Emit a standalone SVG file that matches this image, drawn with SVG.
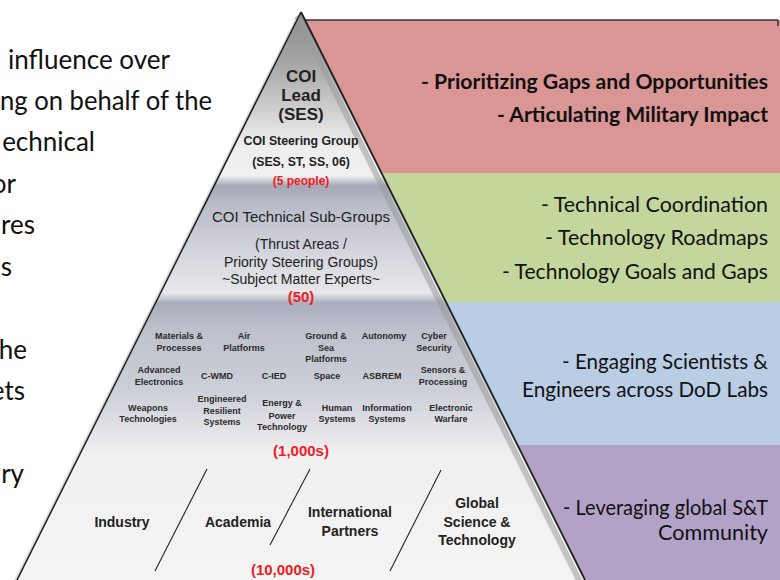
<svg xmlns="http://www.w3.org/2000/svg" width="780" height="580" viewBox="0 0 780 580">
<defs>
<linearGradient id="pyr" gradientUnits="userSpaceOnUse" x1="0" y1="12" x2="0" y2="580">
<stop offset="0" stop-color="#8c8c8c"/>
<stop offset="0.0845" stop-color="#a4a4a4"/>
<stop offset="0.155" stop-color="#c6c6c6"/>
<stop offset="0.2077" stop-color="#e2e2e2"/>
<stop offset="0.243" stop-color="#eeeeee"/>
<stop offset="0.2887" stop-color="#f0f0f0"/>
<stop offset="0.3063" stop-color="#a4a7b6"/>
<stop offset="0.3398" stop-color="#babcc8"/>
<stop offset="0.419" stop-color="#d2d3dc"/>
<stop offset="0.4806" stop-color="#e4e4e8"/>
<stop offset="0.4947" stop-color="#e8e8ec"/>
<stop offset="0.5123" stop-color="#aaadbb"/>
<stop offset="0.5599" stop-color="#bec0cb"/>
<stop offset="0.6655" stop-color="#cdcfd8"/>
<stop offset="0.7359" stop-color="#e2e2e7"/>
<stop offset="0.78" stop-color="#f0f0f0"/>
<stop offset="1" stop-color="#f4f4f4"/>
</linearGradient>
<style>
.lt{font-family:Lato,"Open Sans",sans-serif;font-size:26px;fill:#111}
.pt{font-family:Lato,"Open Sans",sans-serif;font-size:20.5px;fill:#111;text-anchor:end}
.pb{font-weight:bold}
.a{font-family:"Liberation Sans",Arial,sans-serif;text-anchor:middle;fill:#222}
.b{font-weight:bold}
.red{fill:#ee1c24;font-weight:bold}
.t{font-family:"Liberation Sans",Arial,sans-serif;font-size:9px;font-weight:bold;text-anchor:middle;fill:#2a2a2a}
.div{stroke:#222;stroke-width:1.1;fill:none}
</style>
</defs>
<rect width="780" height="580" fill="#ffffff"/>

<g id="left-text" class="lt">
<text x="8" y="69" textLength="162" lengthAdjust="spacingAndGlyphs">influence over</text>
<text x="0" y="110" textLength="212" lengthAdjust="spacingAndGlyphs">ng on behalf of the</text>
<text x="95" y="151" text-anchor="end">echnical</text>
<text x="16" y="193" text-anchor="end">or</text>
<text x="35" y="234" text-anchor="end">res</text>
<text x="12" y="276" text-anchor="end">s</text>
<text x="27" y="359" text-anchor="end">he</text>
<text x="25" y="400" text-anchor="end">ets</text>
<text x="24" y="483" text-anchor="end">ry</text>
</g>

<g id="panels">
<polygon id="panel-red" points="305,20 780,20 780,173 381.5,173" fill="#d99694"/>
<polygon id="panel-green" points="381.5,173 780,173 780,302 446,302" fill="#c3d69b"/>
<polygon id="panel-blue" points="446,302 780,302 780,445 517.5,445" fill="#b9cde5"/>
<polygon id="panel-purple" points="517.5,445 780,445 780,580 585,580" fill="#b3a2c7"/>
<line x1="305" y1="20" x2="778" y2="20" stroke="#333" stroke-width="1.5"/>
<line x1="778" y1="20" x2="778" y2="26" stroke="#333" stroke-width="1.5"/>
<g class="pt pb">
<text x="768" y="89" textLength="347" lengthAdjust="spacingAndGlyphs">- Prioritizing Gaps and Opportunities</text>
<text x="768" y="122" textLength="271" lengthAdjust="spacingAndGlyphs">- Articulating Military Impact</text>
</g>
<g class="pt">
<text x="768" y="212" textLength="227" lengthAdjust="spacingAndGlyphs">- Technical Coordination</text>
<text x="768" y="245" textLength="223" lengthAdjust="spacingAndGlyphs">- Technology Roadmaps</text>
<text x="768" y="279" textLength="266" lengthAdjust="spacingAndGlyphs">- Technology Goals and Gaps</text>
<text x="768" y="369" textLength="206" lengthAdjust="spacingAndGlyphs">- Engaging Scientists &amp;</text>
<text x="768" y="397" textLength="246" lengthAdjust="spacingAndGlyphs">Engineers across DoD Labs</text>
<text x="768" y="515" textLength="205" lengthAdjust="spacingAndGlyphs">- Leveraging global S&amp;T</text>
<text x="768" y="540" textLength="110" lengthAdjust="spacingAndGlyphs">Community</text>
</g>
</g>

<g id="pyramid">
<polygon points="301,12 17,580 585,580" fill="url(#pyr)"/>
<line x1="297" y1="16" x2="580" y2="582" stroke="#9a9a9a" stroke-width="6" stroke-opacity="0.55"/>
<line x1="298" y1="16" x2="14" y2="584" stroke="#bbbbbb" stroke-width="3" stroke-opacity="0.5"/>
<line x1="301" y1="12" x2="17" y2="580" stroke="#1e1e1e" stroke-width="1.5"/>
<line x1="301" y1="12" x2="585" y2="580" stroke="#1e1e1e" stroke-width="1.8"/>
</g>

<g id="tier-lead" class="a">
<text class="b" x="301" y="82" font-size="17">COI</text>
<text class="b" x="301" y="101" font-size="17">Lead</text>
<text class="b" x="301" y="120" font-size="17">(SES)</text>
<text class="b" x="301" y="145" font-size="12.3">COI Steering Group</text>
<text class="b" x="301" y="166" font-size="12.3">(SES, ST, SS, 06)</text>
<text class="red" x="301" y="185" font-size="12">(5 people)</text>
</g>

<g id="tier-subgroups" class="a">
<text x="301" y="222" font-size="14.5" textLength="178" lengthAdjust="spacingAndGlyphs">COI Technical Sub-Groups</text>
<text x="301" y="249" font-size="14">(Thrust Areas /</text>
<text x="301" y="267" font-size="14">Priority Steering Groups)</text>
<text x="301" y="284" font-size="14">~Subject Matter Experts~</text>
<text class="red" x="301" y="302" font-size="15">(50)</text>
</g>

<g id="tier-areas" class="t">
<text x="179" y="339">Materials &amp;</text><text x="179" y="351">Processes</text>
<text x="244" y="339">Air</text><text x="244" y="351">Platforms</text>
<text x="326" y="339">Ground &amp;</text><text x="326" y="351">Sea</text><text x="326" y="362">Platforms</text>
<text x="384" y="339">Autonomy</text>
<text x="434" y="339">Cyber</text><text x="434" y="351">Security</text>
<text x="159" y="373">Advanced</text><text x="159" y="385">Electronics</text>
<text x="217" y="379">C-WMD</text>
<text x="274" y="379">C-IED</text>
<text x="327" y="379">Space</text>
<text x="382" y="379">ASBREM</text>
<text x="443" y="373">Sensors &amp;</text><text x="443" y="385">Processing</text>
<text x="148" y="411">Weapons</text><text x="148" y="422">Technologies</text>
<text x="222" y="402">Engineered</text><text x="222" y="414">Resilient</text><text x="222" y="425">Systems</text>
<text x="282" y="406">Energy &amp;</text><text x="282" y="419">Power</text><text x="282" y="430">Technology</text>
<text x="337" y="411">Human</text><text x="337" y="422">Systems</text>
<text x="387" y="411">Information</text><text x="387" y="422">Systems</text>
<text x="451" y="411">Electronic</text><text x="451" y="422">Warfare</text>
<text class="red" x="301" y="456" font-size="15" style="font-size:15px;fill:#ee1c24">(1,000s)</text>
</g>

<g id="tier-community" class="a">
<text class="b" x="122" y="527" font-size="14">Industry</text>
<text class="b" x="238" y="527" font-size="14">Academia</text>
<text class="b" x="350" y="517" font-size="14">International</text>
<text class="b" x="350" y="536" font-size="14">Partners</text>
<text class="b" x="477" y="508" font-size="14">Global</text>
<text class="b" x="477" y="527" font-size="14">Science &amp;</text>
<text class="b" x="477" y="545" font-size="14">Technology</text>
<text class="red" x="283" y="575" font-size="15">(10,000s)</text>
</g>

<g id="connectors">
<line class="div" x1="207" y1="469" x2="155" y2="571"/>
<line class="div" x1="310" y1="469" x2="270" y2="545"/>
<line class="div" x1="441" y1="470" x2="390" y2="571"/>
</g>
</svg>
